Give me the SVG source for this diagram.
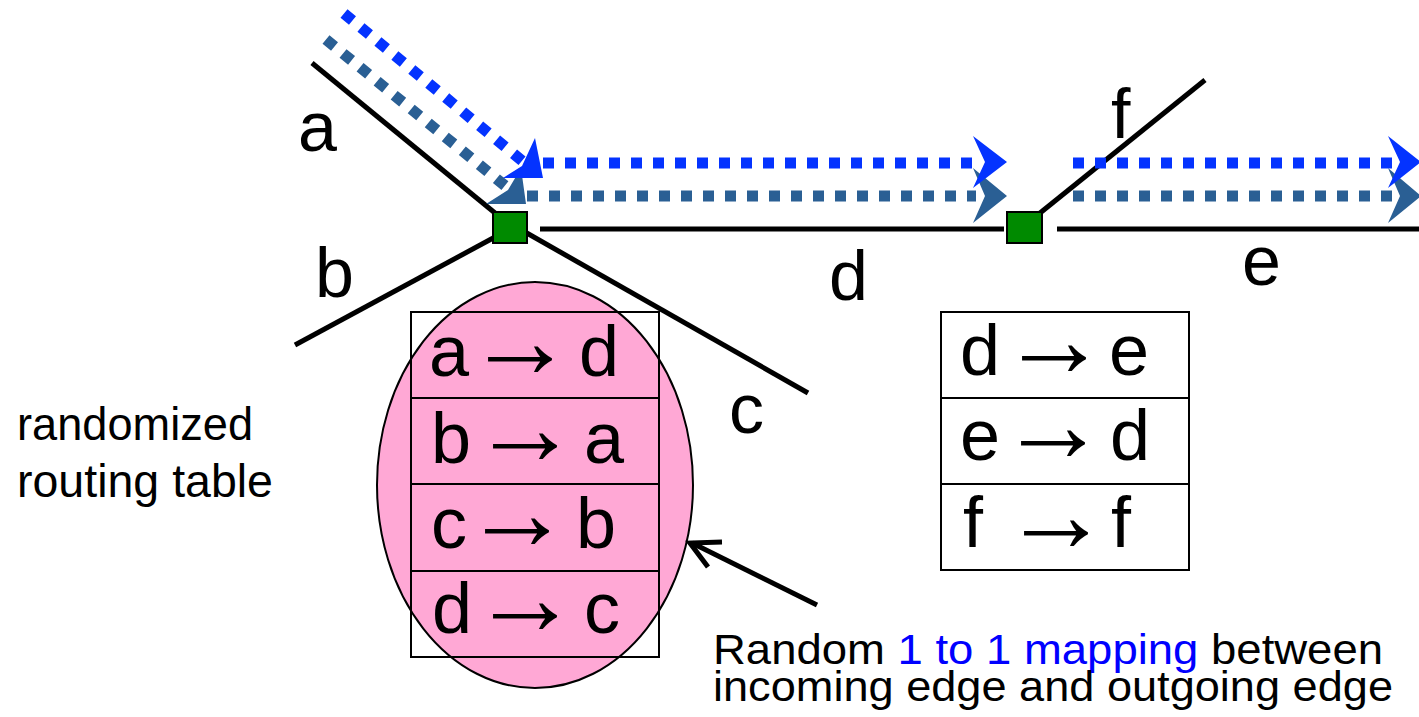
<svg xmlns="http://www.w3.org/2000/svg" width="1419" height="717" viewBox="0 0 1419 717">
  <style>
    text { font-family: "Liberation Sans", Arial, sans-serif; fill: #000; }
    .edge { stroke: #000; stroke-width: 5; fill: none; }
    .dotB { stroke: #0433FF; stroke-width: 11; stroke-dasharray: 11 11; fill: none; }
    .dotS { stroke: #2A5F94; stroke-width: 11; stroke-dasharray: 11 11; fill: none; }
    .headB { fill: #0433FF; }
    .headS { fill: #2A5F94; }
    .router { fill: #008A00; stroke: #000; stroke-width: 2; }
    .tbl { fill: none; stroke: #000; stroke-width: 2; }
    .lbl { font-size: 70px; }
    .row { font-size: 72px; }
    .arr { font-size: 108px; }
    .note { font-size: 46px; }
    .map { font-size: 42px; }
  </style>

  <!-- network edges -->
  <g id="edges">
    <line class="edge" x1="312" y1="63" x2="495" y2="213"/>
    <line class="edge" x1="295" y1="345" x2="495" y2="237"/>
    <line class="edge" x1="525" y1="232" x2="808" y2="393"/>
    <line class="edge" x1="540" y1="229" x2="1004" y2="229"/>
    <line class="edge" x1="1057" y1="229" x2="1419" y2="229"/>
    <line class="edge" x1="1040" y1="213" x2="1205" y2="80"/>
  </g>

  <!-- edge labels -->
  <g id="edge-labels" class="lbl">
    <text x="298" y="151">a</text>
    <text x="315" y="297">b</text>
    <text x="729" y="433">c</text>
    <text x="829" y="300">d</text>
    <text x="1242" y="285">e</text>
    <text x="1111" y="138">f</text>
  </g>

  <!-- randomized routing table of the left router -->
  <g id="table-left">
    <ellipse cx="535" cy="485" rx="158" ry="203" fill="#FFA8D5" stroke="#000" stroke-width="2"/>
    <rect class="tbl" x="411" y="312" width="248" height="345"/>
    <line class="tbl" x1="411" y1="398" x2="659" y2="398"/>
    <line class="tbl" x1="411" y1="484" x2="659" y2="484"/>
    <line class="tbl" x1="411" y1="571" x2="659" y2="571"/>
    <text class="row"><tspan x="429" y="376">a</tspan><tspan class="arr" x="466" y="377">→</tspan><tspan x="579" y="376">d</tspan></text>
    <text class="row"><tspan x="431" y="463">b</tspan><tspan class="arr" x="471" y="464">→</tspan><tspan x="584" y="463">a</tspan></text>
    <text class="row"><tspan x="431" y="548">c</tspan><tspan class="arr" x="463" y="549">→</tspan><tspan x="576" y="548">b</tspan></text>
    <text class="row"><tspan x="432" y="633">d</tspan><tspan class="arr" x="471" y="634">→</tspan><tspan x="584" y="633">c</tspan></text>
  </g>

  <!-- routing table of the right router -->
  <g id="table-right">
    <rect class="tbl" x="941" y="312" width="248" height="258"/>
    <line class="tbl" x1="941" y1="398" x2="1189" y2="398"/>
    <line class="tbl" x1="941" y1="484" x2="1189" y2="484"/>
    <text class="row"><tspan x="960" y="375">d</tspan><tspan class="arr" x="1000" y="376">→</tspan><tspan x="1109" y="375">e</tspan></text>
    <text class="row"><tspan x="960" y="460">e</tspan><tspan class="arr" x="999" y="461">→</tspan><tspan x="1110" y="460">d</tspan></text>
    <text class="row"><tspan x="963" y="547">f</tspan><tspan class="arr" x="1002" y="551">→</tspan><tspan x="1111" y="547">f</tspan></text>
  </g>

  <!-- walk paths -->
  <g id="walks">
    <line class="dotS" x1="326" y1="39.5" x2="506" y2="186.5"/>
    <line class="dotB" x1="344" y1="13.5" x2="523" y2="161.5"/>
    <path class="headS" d="M521,168 L526,204 L486,204 L508,190 Z"/>
    <path class="headB" d="M535,138 L543,178 L503,178 L522,166 Z"/>

    <line class="dotS" x1="527" y1="196" x2="976" y2="196"/>
    <line class="dotB" x1="543" y1="163" x2="976" y2="163"/>
    <path class="headS" d="M1007,196 L973,168 L985,196 L973,223 Z"/>
    <path class="headB" d="M1007,162 L973,136 L985,162 L973,188 Z"/>

    <line class="dotS" x1="1073" y1="196" x2="1392" y2="196"/>
    <line class="dotB" x1="1073" y1="163" x2="1392" y2="163"/>
    <path class="headS" d="M1421,196 L1388,168 L1400,196 L1388,223 Z"/>
    <path class="headB" d="M1421,162 L1388,136 L1400,162 L1388,188 Z"/>
  </g>

  <!-- routers -->
  <g id="router-1">
    <rect class="router" x="493" y="212" width="34" height="31"/>
  </g>
  <g id="router-2">
    <rect class="router" x="1007" y="212" width="35" height="31"/>
  </g>

  <!-- captions -->
  <g id="caption-table" class="note">
    <text x="17" y="440" textLength="236" lengthAdjust="spacingAndGlyphs">randomized</text>
    <text x="17" y="497" textLength="256" lengthAdjust="spacingAndGlyphs">routing table</text>
  </g>

  <g id="pointer">
    <line class="edge" x1="817" y1="605" x2="692" y2="543"/>
    <path class="edge" d="M722,542 L690,543 L708,567"/>
  </g>

  <g id="caption-mapping" class="map">
    <text x="713" y="664" textLength="670" lengthAdjust="spacingAndGlyphs">Random <tspan fill="#0000FF">1 to 1 mapping</tspan> between</text>
    <text x="713" y="701" textLength="680" lengthAdjust="spacingAndGlyphs">incoming edge and outgoing edge</text>
  </g>
</svg>
